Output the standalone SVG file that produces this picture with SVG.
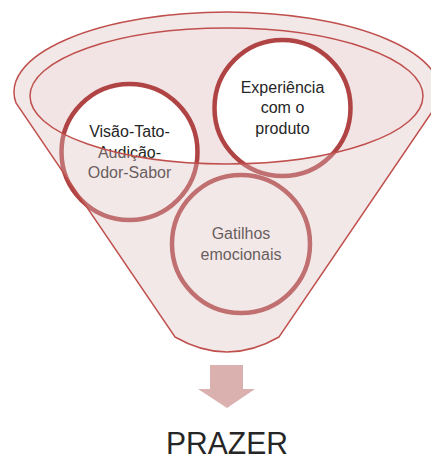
<svg xmlns="http://www.w3.org/2000/svg" width="431" height="461" viewBox="0 0 431 461">
<style>
.lbl{font-family:"Liberation Sans",Arial,sans-serif;font-size:16px;fill:#262626;text-anchor:middle}
.circ{fill:#ffffff;stroke:#b04444;stroke-width:4.5}
.line{fill:none;stroke:#c0504d;stroke-width:1.5}
</style>
<rect width="431" height="461" fill="#ffffff"/>
<g id="funnel-inner-fill">
<ellipse cx="226.5" cy="96" rx="196.5" ry="68" fill="#f2e3e4"/>
</g>
<g id="node-sentidos">
<circle class="circ" cx="129.5" cy="152" r="68"/>
<text class="lbl" x="129.5" y="137">Visão-Tato-</text>
<text class="lbl" x="129.5" y="158">Audição-</text>
<text class="lbl" x="129.5" y="178">Odor-Sabor</text>
</g>
<g id="node-experiencia">
<circle class="circ" cx="282.5" cy="108" r="68"/>
<text class="lbl" x="282.5" y="93">Experiência</text>
<text class="lbl" x="282.5" y="113">com o</text>
<text class="lbl" x="282.5" y="134">produto</text>
</g>
<g id="node-gatilhos">
<circle class="circ" cx="241" cy="244" r="69"/>
<text class="lbl" x="241" y="239">Gatilhos</text>
<text class="lbl" x="241" y="260">emocionais</text>
</g>
<g id="funnel-body">
<path d="M16,103 A213,80 0 1,1 438,103 L279,337 Q227,367 175,337 Z M30,96 A196.5,68 0 1,0 423,96 A196.5,68 0 1,0 30,96 Z" fill="rgb(222,190,191)" fill-opacity="0.36" fill-rule="evenodd"/>
<path class="line" d="M16,103 A213,80 0 1,1 438,103 L279,337 Q227,367 175,337 Z"/>
<ellipse class="line" cx="226.5" cy="96" rx="196.5" ry="68"/>
</g>
<g id="connectors">
<polygon points="210,365 243,365 243,389 255,389 227,408 198,389 210,389" fill="#dbb1b0"/>
</g>
<g id="node-prazer">
<text x="227" y="454" font-family="Liberation Sans, Arial, sans-serif" font-size="31" fill="#262626" text-anchor="middle" textLength="122" lengthAdjust="spacingAndGlyphs">PRAZER</text>
</g>
</svg>
